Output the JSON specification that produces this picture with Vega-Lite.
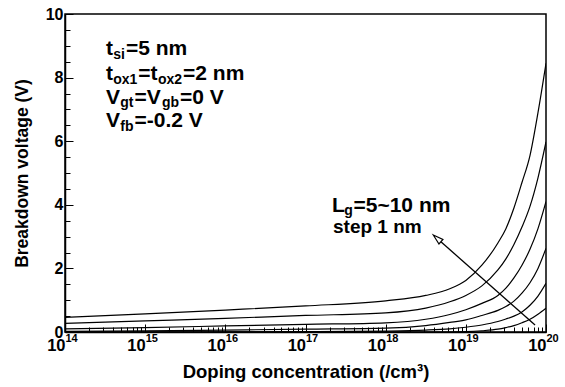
{
  "$schema": "https://vega.github.io/schema/vega-lite/v6.json",
  "width": 481,
  "height": 318,
  "autosize": {"type": "none"},
  "padding": {"left": 65, "top": 14, "right": 19, "bottom": 55},
  "background": "white",
  "config": {
    "view": {"stroke": "black", "strokeWidth": 1.5},
    "font": "Liberation Sans",
    "axis": {
      "domainColor": "black", "tickColor": "black", "labelColor": "black", "titleColor": "black",
      "grid": false, "labelFont": "Liberation Sans", "titleFont": "Liberation Sans",
      "labelFontWeight": "bold", "titleFontWeight": "bold", "labelOverlap": false, "labelFlush": false
    }
  },
  "datasets": {
    "curves": [
      {"Lg": 10, "N": 1e14, "V": 0.46}, {"Lg": 10, "N": 1e15, "V": 0.57}, {"Lg": 10, "N": 1e16, "V": 0.69}, {"Lg": 10, "N": 1e17, "V": 0.82}, {"Lg": 10, "N": 1e18, "V": 0.98}, {"Lg": 10, "N": 3.162e18, "V": 1.15}, {"Lg": 10, "N": 6.31e18, "V": 1.36}, {"Lg": 10, "N": 1e19, "V": 1.62}, {"Lg": 10, "N": 1.585e19, "V": 2.1}, {"Lg": 10, "N": 2.512e19, "V": 2.8}, {"Lg": 10, "N": 3.162e19, "V": 3.25}, {"Lg": 10, "N": 3.981e19, "V": 3.9}, {"Lg": 10, "N": 5.012e19, "V": 4.7}, {"Lg": 10, "N": 6.31e19, "V": 5.55}, {"Lg": 10, "N": 7.943e19, "V": 6.9}, {"Lg": 10, "N": 1e20, "V": 8.45},
      {"Lg": 9, "N": 1e14, "V": 0.27}, {"Lg": 9, "N": 1e15, "V": 0.35}, {"Lg": 9, "N": 1e16, "V": 0.43}, {"Lg": 9, "N": 1e17, "V": 0.52}, {"Lg": 9, "N": 1e18, "V": 0.6}, {"Lg": 9, "N": 3.162e18, "V": 0.75}, {"Lg": 9, "N": 6.31e18, "V": 0.95}, {"Lg": 9, "N": 1e19, "V": 1.15}, {"Lg": 9, "N": 1.585e19, "V": 1.45}, {"Lg": 9, "N": 2.512e19, "V": 1.95}, {"Lg": 9, "N": 3.162e19, "V": 2.3}, {"Lg": 9, "N": 3.981e19, "V": 2.75}, {"Lg": 9, "N": 5.012e19, "V": 3.3}, {"Lg": 9, "N": 6.31e19, "V": 3.95}, {"Lg": 9, "N": 7.943e19, "V": 4.85}, {"Lg": 9, "N": 1e20, "V": 5.98},
      {"Lg": 8, "N": 1e14, "V": 0.1}, {"Lg": 8, "N": 1e15, "V": 0.14}, {"Lg": 8, "N": 1e16, "V": 0.19}, {"Lg": 8, "N": 1e17, "V": 0.24}, {"Lg": 8, "N": 1e18, "V": 0.29}, {"Lg": 8, "N": 3.162e18, "V": 0.4}, {"Lg": 8, "N": 6.31e18, "V": 0.55}, {"Lg": 8, "N": 1e19, "V": 0.7}, {"Lg": 8, "N": 1.585e19, "V": 0.9}, {"Lg": 8, "N": 2.512e19, "V": 1.15}, {"Lg": 8, "N": 3.162e19, "V": 1.38}, {"Lg": 8, "N": 3.981e19, "V": 1.7}, {"Lg": 8, "N": 5.012e19, "V": 2.1}, {"Lg": 8, "N": 6.31e19, "V": 2.6}, {"Lg": 8, "N": 7.943e19, "V": 3.25}, {"Lg": 8, "N": 1e20, "V": 4.1},
      {"Lg": 7, "N": 1e14, "V": 0.02}, {"Lg": 7, "N": 1e15, "V": 0.04}, {"Lg": 7, "N": 1e16, "V": 0.06}, {"Lg": 7, "N": 1e17, "V": 0.09}, {"Lg": 7, "N": 1e18, "V": 0.12}, {"Lg": 7, "N": 3.162e18, "V": 0.2}, {"Lg": 7, "N": 6.31e18, "V": 0.3}, {"Lg": 7, "N": 1e19, "V": 0.38}, {"Lg": 7, "N": 1.585e19, "V": 0.52}, {"Lg": 7, "N": 2.512e19, "V": 0.68}, {"Lg": 7, "N": 3.162e19, "V": 0.8}, {"Lg": 7, "N": 3.981e19, "V": 0.97}, {"Lg": 7, "N": 5.012e19, "V": 1.22}, {"Lg": 7, "N": 6.31e19, "V": 1.55}, {"Lg": 7, "N": 7.943e19, "V": 2.0}, {"Lg": 7, "N": 1e20, "V": 2.63},
      {"Lg": 6, "N": 1e14, "V": 0.0}, {"Lg": 6, "N": 1e16, "V": 0.0}, {"Lg": 6, "N": 1e17, "V": 0.01}, {"Lg": 6, "N": 1e18, "V": 0.03}, {"Lg": 6, "N": 3.162e18, "V": 0.06}, {"Lg": 6, "N": 6.31e18, "V": 0.1}, {"Lg": 6, "N": 1e19, "V": 0.15}, {"Lg": 6, "N": 1.585e19, "V": 0.22}, {"Lg": 6, "N": 2.512e19, "V": 0.33}, {"Lg": 6, "N": 3.162e19, "V": 0.41}, {"Lg": 6, "N": 3.981e19, "V": 0.5}, {"Lg": 6, "N": 5.012e19, "V": 0.63}, {"Lg": 6, "N": 6.31e19, "V": 0.84}, {"Lg": 6, "N": 7.943e19, "V": 1.13}, {"Lg": 6, "N": 1e20, "V": 1.53},
      {"Lg": 5, "N": 1e14, "V": 0.0}, {"Lg": 5, "N": 3.162e18, "V": 0.0}, {"Lg": 5, "N": 6.31e18, "V": 0.0}, {"Lg": 5, "N": 1e19, "V": 0.01}, {"Lg": 5, "N": 1.585e19, "V": 0.04}, {"Lg": 5, "N": 2.512e19, "V": 0.09}, {"Lg": 5, "N": 3.162e19, "V": 0.14}, {"Lg": 5, "N": 3.981e19, "V": 0.2}, {"Lg": 5, "N": 5.012e19, "V": 0.29}, {"Lg": 5, "N": 6.31e19, "V": 0.4}, {"Lg": 5, "N": 7.943e19, "V": 0.56}, {"Lg": 5, "N": 1e20, "V": 0.75}
    ],
    "arrow": [
      {"N": 7.3e19, "V": 0.22},
      {"N": 4.47e18, "V": 2.925}
    ],
    "head": [
      {"N": 4.47e18, "V": 2.925}
    ],
    "notes": [
      {"N": 3.246e14, "V": 8.71, "t": "t", "k": "m"},
      {"N": 3.993e14, "V": 8.6, "t": "si", "k": "s"},
      {"N": 5.766e14, "V": 8.71, "t": "=5 nm", "k": "m"},
      {"N": 3.246e14, "V": 7.92, "t": "t", "k": "m"},
      {"N": 3.993e14, "V": 7.81, "t": "ox1", "k": "s"},
      {"N": 8.21e14, "V": 7.92, "t": "=t", "k": "m"},
      {"N": 1.445e15, "V": 7.81, "t": "ox2", "k": "s"},
      {"N": 2.972e15, "V": 7.92, "t": "=2 nm", "k": "m"},
      {"N": 3.246e14, "V": 7.17, "t": "V", "k": "m"},
      {"N": 4.895e14, "V": 7.06, "t": "gt", "k": "s"},
      {"N": 7.36e14, "V": 7.17, "t": "=V", "k": "m"},
      {"N": 1.62e15, "V": 7.06, "t": "gb", "k": "s"},
      {"N": 2.72e15, "V": 7.17, "t": "=0 V", "k": "m"},
      {"N": 3.246e14, "V": 6.44, "t": "V", "k": "m"},
      {"N": 4.895e14, "V": 6.33, "t": "fb", "k": "s"},
      {"N": 7.36e14, "V": 6.44, "t": "=-0.2 V", "k": "m"},
      {"N": 2.14e17, "V": 3.78, "t": "L", "k": "m"},
      {"N": 3.046e17, "V": 3.67, "t": "g", "k": "s"},
      {"N": 3.968e17, "V": 3.78, "t": "=5~10 nm", "k": "m"},
      {"N": 2.203e17, "V": 3.1, "t": "step 1 nm", "k": "m2"}
    ]
  },
  "layer": [
    {
      "data": {"name": "curves"},
      "mark": {"type": "line", "interpolate": "monotone", "color": "black", "strokeWidth": 1.2, "clip": true},
      "encoding": {
        "x": {"field": "N", "type": "quantitative",
          "scale": {"type": "log", "domain": [1e14, 1e20], "nice": false},
          "axis": {"orient": "bottom", "values": [1e14, 1e15, 1e16, 1e17, 1e18, 1e19, 1e20], "labelExpr": "'10'",
            "tickSize": -8, "tickWidth": 1, "domainWidth": 1.5, "labelFontSize": 16.5, "labelPadding": 13,
            "labelAlign": "right", "labelDx": 5,
            "title": "Doping concentration (/cm³)", "titleFontSize": 18.5, "titlePadding": 9}},
        "y": {"field": "V", "type": "quantitative",
          "scale": {"domain": [0, 10], "nice": false},
          "axis": {"orient": "left", "values": [0, 2, 4, 6, 8, 10], "tickSize": -8, "tickWidth": 1, "domainWidth": 1.5,
            "labelFontSize": 16, "labelPadding": 10, "title": "Breakdown voltage (V)", "titleFontSize": 17.5, "titlePadding": 14}},
        "detail": {"field": "Lg", "type": "nominal"}
      }
    },
    {
      "data": {"name": "arrow"},
      "mark": {"type": "line", "color": "black", "strokeWidth": 1.3},
      "encoding": {
        "x": {"field": "N", "type": "quantitative",
          "scale": {"type": "log", "domain": [1e14, 1e20], "nice": false},
          "axis": {"orient": "bottom", "values": [2e14, 3e14, 4e14, 5e14, 6e14, 7e14, 8e14, 9e14, 2e15, 3e15, 4e15, 5e15, 6e15, 7e15, 8e15, 9e15, 2e16, 3e16, 4e16, 5e16, 6e16, 7e16, 8e16, 9e16, 2e17, 3e17, 4e17, 5e17, 6e17, 7e17, 8e17, 9e17, 2e18, 3e18, 4e18, 5e18, 6e18, 7e18, 8e18, 9e18, 2e19, 3e19, 4e19, 5e19, 6e19, 7e19, 8e19, 9e19],
            "labels": false, "domain": false, "tickSize": -5, "tickWidth": 1, "title": null}},
        "y": {"field": "V", "type": "quantitative",
          "scale": {"domain": [0, 10], "nice": false},
          "axis": {"orient": "left", "values": [0.5, 1, 1.5, 2.5, 3, 3.5, 4.5, 5, 5.5, 6.5, 7, 7.5, 8.5, 9, 9.5],
            "labels": false, "domain": false, "tickSize": -5, "tickWidth": 1, "title": null}}
      }
    },
    {
      "data": {"name": "head"},
      "mark": {"type": "point", "shape": "M0,-1L0.5,0.7L-0.5,0.7Z", "size": 144, "angle": 311.4, "filled": true, "fill": "white", "stroke": "black", "strokeWidth": 1.2, "opacity": 1},
      "encoding": {
        "x": {"field": "N", "type": "quantitative",
          "scale": {"type": "log", "domain": [1e14, 1e20], "nice": false},
          "axis": {"orient": "bottom", "values": [1e14, 1e15, 1e16, 1e17, 1e18, 1e19, 1e20],
            "labelExpr": "format(round(log(datum.value) / LN10), 'd')", "ticks": false, "domain": false,
            "labelFontSize": 11, "labelPadding": 0, "labelAlign": "left", "labelDx": 8, "labelDy": -4, "title": null}},
        "y": {"field": "V", "type": "quantitative", "scale": {"domain": [0, 10], "nice": false}, "axis": null}
      }
    },
    {
      "data": {"name": "notes"},
      "transform": [{"filter": "datum.k === 'm'"}],
      "mark": {"type": "text", "align": "left", "baseline": "alphabetic", "fontSize": 21, "fontWeight": "bold", "font": "Liberation Sans", "color": "black"},
      "encoding": {
        "x": {"field": "N", "type": "quantitative", "scale": {"type": "log", "domain": [1e14, 1e20], "nice": false}, "axis": null},
        "y": {"field": "V", "type": "quantitative", "scale": {"domain": [0, 10], "nice": false}, "axis": null},
        "text": {"field": "t"}
      }
    },
    {
      "data": {"name": "notes"},
      "transform": [{"filter": "datum.k === 'm2'"}],
      "mark": {"type": "text", "align": "left", "baseline": "alphabetic", "fontSize": 19, "fontWeight": "bold", "font": "Liberation Sans", "color": "black"},
      "encoding": {
        "x": {"field": "N", "type": "quantitative", "scale": {"type": "log", "domain": [1e14, 1e20], "nice": false}, "axis": null},
        "y": {"field": "V", "type": "quantitative", "scale": {"domain": [0, 10], "nice": false}, "axis": null},
        "text": {"field": "t"}
      }
    },
    {
      "data": {"name": "notes"},
      "transform": [{"filter": "datum.k === 's'"}],
      "mark": {"type": "text", "align": "left", "baseline": "alphabetic", "fontSize": 14, "fontWeight": "bold", "font": "Liberation Sans", "color": "black"},
      "encoding": {
        "x": {"field": "N", "type": "quantitative", "scale": {"type": "log", "domain": [1e14, 1e20], "nice": false}, "axis": null},
        "y": {"field": "V", "type": "quantitative", "scale": {"domain": [0, 10], "nice": false}, "axis": null},
        "text": {"field": "t"}
      }
    }
  ],
  "resolve": {"axis": {"x": "independent", "y": "independent"}}
}
